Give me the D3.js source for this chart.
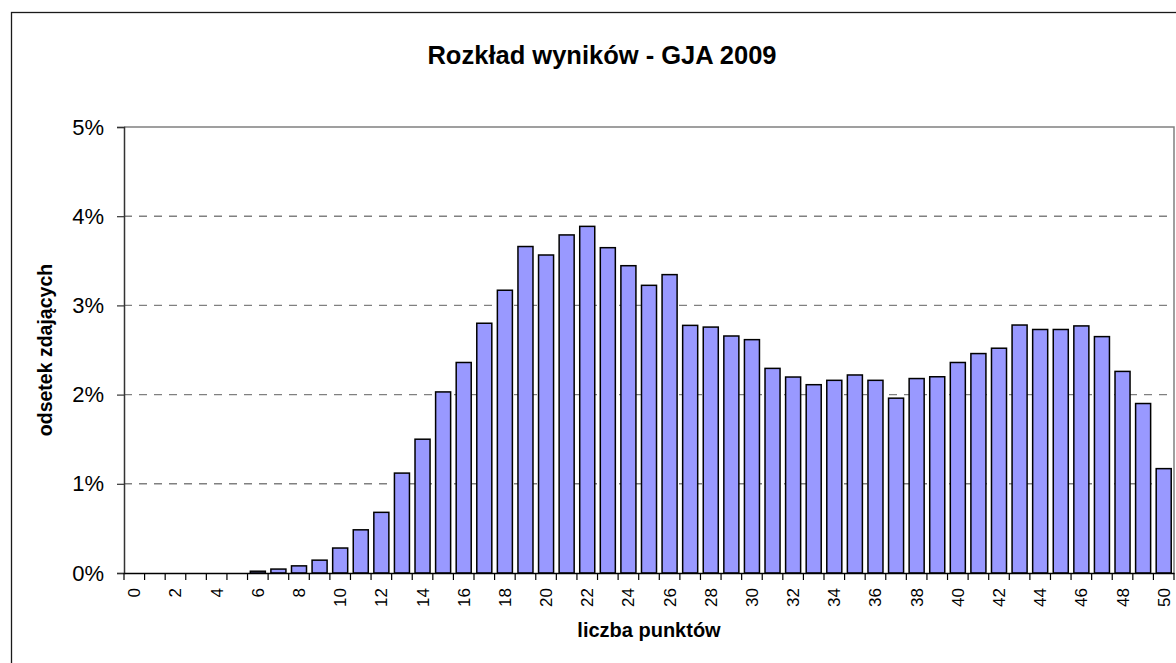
<!DOCTYPE html>
<html>
<head>
<meta charset="utf-8">
<script src="https://cdn.jsdelivr.net/npm/d3@7"></script>
<style>
    body { margin: 0; background: white; }
    text { font-family: "Liberation Sans", Arial, sans-serif; }
</style>
</head>
<body>
<main></main>
<script>
// liczba punktów 0..50
let points = d3.range(0, 51)

// odsetek zdających w %
let shares = [
    0, 0, 0, 0, 0, 0, 0.02, 0.044, 0.08, 0.144,
    0.28, 0.484, 0.68, 1.12, 1.50, 2.03, 2.36, 2.80, 3.17, 3.66,
    3.565, 3.79, 3.886, 3.647, 3.445, 3.225, 3.345, 2.776, 2.757, 2.657,
    2.616, 2.294, 2.197, 2.111, 2.16, 2.22, 2.16, 1.96, 2.18, 2.20,
    2.36, 2.46, 2.52, 2.78, 2.73, 2.73, 2.77, 2.65, 2.26, 1.90,
    1.17
]

let yTicks = [0, 1, 2, 3, 4, 5]

const svgWidth = 1176
const svgHeight = 663

const plotLeft = 124
const plotTop = 127
const plotRight = 1174
const plotBottom = 573

let svg = d3.select("main")
    .append("svg")
    .attr("width", svgWidth)
    .attr("height", svgHeight)
    .style("display", "block")
    .style("background-color", "white")

// ramka wykresu (ucięta z prawej i od dołu)
svg.append("rect")
    .attr("x", 11.5)
    .attr("y", 12.5)
    .attr("width", 1200)
    .attr("height", 700)
    .attr("fill", "none")
    .attr("stroke", "#1a1a1a")
    .attr("stroke-width", 1.3)

svg.append("text")
    .attr("x", 602)
    .attr("y", 64)
    .attr("text-anchor", "middle")
    .style("font-size", "25.5px")
    .style("font-weight", "bold")
    .text("Rozkład wyników - GJA 2009")

let xScale = d3.scaleBand()
    .domain(points)
    .range([plotLeft, plotRight])
    .paddingInner(0.27)
    .paddingOuter(0.135)

let yScale = d3.scaleLinear()
    .domain([0, 5])
    .range([plotBottom, plotTop])

// siatka
svg.append("g")
    .selectAll("line")
    .data(yTicks.filter(t => t > 0 && t < 5))
    .enter()
    .append("line")
    .attr("x1", plotLeft)
    .attr("x2", plotRight)
    .attr("y1", d => yScale(d))
    .attr("y2", d => yScale(d))
    .attr("stroke", "#808080")
    .attr("stroke-width", 1.4)
    .attr("stroke-dasharray", "8,7")

// górna i prawa krawędź obszaru
svg.append("path")
    .attr("d", `M${plotLeft},${plotTop}H${plotRight}V${plotBottom}`)
    .attr("fill", "none")
    .attr("stroke", "#808080")
    .attr("stroke-width", 1.5)

let step = xScale.step()

svg.append("g")
    .selectAll("rect")
    .data(shares)
    .enter()
    .append("rect")
    .attr("x", (d, i) => xScale(points[i]))
    .attr("y", d => yScale(d))
    .attr("width", xScale.bandwidth())
    .attr("height", d => plotBottom - yScale(d))
    .attr("fill", "#9999ff")
    .attr("stroke", "black")
    .attr("stroke-width", 1.5)
    .style("display", d => d > 0 ? null : "none")

let leftAxis = d3.axisLeft(yScale)
    .tickValues(yTicks)
    .tickFormat(d => d + "%")
    .tickSize(7)
    .tickPadding(13)

let yAxis = svg.append("g")
    .attr("transform", `translate(${plotLeft}, 0)`)
    .call(leftAxis)

yAxis.select("path")
    .attr("stroke", "#333")
    .attr("stroke-width", 1.5)

yAxis.selectAll("line")
    .attr("stroke", "#333")
    .attr("stroke-width", 1.2)

yAxis.selectAll("text")
    .attr("fill", "black")
    .style("font-size", "22px")
    .style("font-family", "Liberation Sans, Arial, sans-serif")

// oś X: znaczniki na granicach kategorii
let bottomAxis = d3.axisBottom(xScale)
    .tickValues([])
    .tickSizeOuter(0)

let xAxis = svg.append("g")
    .attr("transform", `translate(0, ${plotBottom})`)
    .call(bottomAxis)

xAxis.select("path")
    .attr("stroke", "black")
    .attr("stroke-width", 1.5)

xAxis.selectAll("line.bound")
    .data(d3.range(0, points.length + 1))
    .enter()
    .append("line")
    .attr("class", "bound")
    .attr("x1", k => plotLeft + k * step)
    .attr("x2", k => plotLeft + k * step)
    .attr("y1", 0)
    .attr("y2", 7)
    .attr("stroke", "black")
    .attr("stroke-width", 1.2)

xAxis.selectAll("text.lbl")
    .data(points.filter(p => p % 2 === 0))
    .enter()
    .append("text")
    .attr("class", "lbl")
    .attr("transform", p => `translate(${xScale(p) + xScale.bandwidth() / 2 + 6}, 15) rotate(-90)`)
    .attr("text-anchor", "end")
    .attr("fill", "black")
    .style("font-size", "17px")
    .text(p => p)

svg.append("text")
    .attr("x", (plotLeft + plotRight) / 2)
    .attr("y", 637)
    .attr("text-anchor", "middle")
    .style("font-size", "20px")
    .style("font-weight", "bold")
    .text("liczba punktów")

svg.append("text")
    .attr("transform", `translate(52, ${(plotTop + plotBottom) / 2}) rotate(-90)`)
    .attr("text-anchor", "middle")
    .style("font-size", "19.5px")
    .style("font-weight", "bold")
    .text("odsetek zdających")
</script>
</body>
</html>
